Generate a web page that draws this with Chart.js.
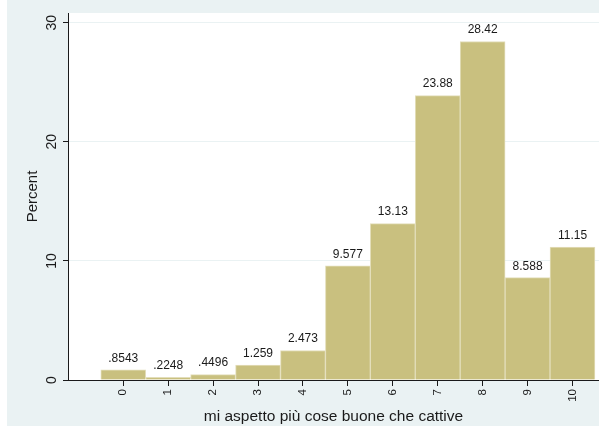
<!DOCTYPE html>
<html>
<head>
<meta charset="utf-8">
<script src="https://cdn.jsdelivr.net/npm/chart.js@4"></script>
<style>
  html, body { margin: 0; padding: 0; background: #fff; }
  #box { width: 599px; height: 427px; position: relative; }
</style>
</head>
<body>
<div id="box"><canvas id="chart"></canvas></div>
<script>
// Histogram data (percent per answer)
const categories = [0, 1, 2, 3, 4, 5, 6, 7, 8, 9, 10];
const percents = [0.8543, 0.2248, 0.4496, 1.259, 2.473, 9.577, 13.13, 23.88, 28.42, 8.588, 11.15];
const yTicks = [0, 10, 20, 30];

const FONT = '"Liberation Sans", Arial, sans-serif';
const BG = '#EAF2F3';

// Stata-like number label: 4 significant digits, no leading zero
const fmt = (v) => String(Number(v.toPrecision(4))).replace(/^0\./, '.');

// Paint the outer light panel and the white plot area
const backdrop = {
  id: 'backdrop',
  beforeDraw(chart) {
    const { ctx, chartArea: a } = chart;
    ctx.save();
    ctx.fillStyle = BG;
    ctx.fillRect(7, 0, chart.width - 7, 426);
    ctx.fillStyle = '#fff';
    ctx.fillRect(a.left, a.top, a.right - a.left, a.bottom - a.top);
    ctx.restore();
  }
};

// Value labels above each bar
const barLabels = {
  id: 'barLabels',
  afterDatasetsDraw(chart) {
    const { ctx } = chart;
    const meta = chart.getDatasetMeta(0);
    ctx.save();
    ctx.font = '12px ' + FONT;
    ctx.fillStyle = '#1a1a1a';
    ctx.textAlign = 'center';
    ctx.textBaseline = 'middle';
    meta.data.forEach((bar, i) => {
      ctx.fillText(fmt(percents[i]), bar.x, bar.y - 11.5);
    });
    ctx.restore();
  }
};

new Chart(document.getElementById('chart'), {
  type: 'bar',
  data: {
    datasets: [{
      data: categories.map((c, i) => ({ x: c, y: percents[i] })),
      backgroundColor: '#C9C07F',
      borderColor: '#E3DEBB',
      borderWidth: 1,
      barPercentage: 1,
      categoryPercentage: 1
    }]
  },
  options: {
    responsive: true,
    maintainAspectRatio: false,
    animation: false,
    events: [],
    layout: { padding: { top: 13, right: 0, left: 0, bottom: 0 } },
    plugins: {
      legend: { display: false },
      tooltip: { enabled: false }
    },
    scales: {
      x: {
        type: 'linear',
        min: -1.23,
        max: 10.59,
        offset: false,
        afterBuildTicks: (s) => { s.ticks = categories.map(v => ({ value: v })); },
        afterFit: (s) => { s.height = 47; },
        ticks: {
          minRotation: 90,
          maxRotation: 90,
          padding: 3,
          autoSkip: false,
          color: '#1a1a1a',
          font: { family: FONT, size: 11.5 }
        },
        grid: {
          drawOnChartArea: false,
          offset: false,
          tickLength: 6,
          tickColor: '#1a1a1a'
        },
        border: { color: '#1a1a1a', width: 1 },
        title: {
          display: true,
          text: 'mi aspetto più cose buone che cattive',
          color: '#1a1a1a',
          font: { family: FONT, size: 15.5 },
          padding: { top: 0, bottom: 1 }
        }
      },
      y: {
        min: 0,
        max: 30.81,
        afterBuildTicks: (s) => { s.ticks = yTicks.map(v => ({ value: v })); },
        afterFit: (s) => { s.width = 68; },
        ticks: {
          minRotation: 90,
          maxRotation: 90,
          crossAlign: 'center',
          padding: 3,
          color: '#1a1a1a',
          font: { family: FONT, size: 14 }
        },
        grid: {
          color: BG,
          lineWidth: 1,
          tickLength: 5,
          tickColor: '#1a1a1a'
        },
        border: { color: '#1a1a1a', width: 1 },
        title: {
          display: true,
          text: 'Percent',
          color: '#1a1a1a',
          font: { family: FONT, size: 15 },
          padding: { top: 24, bottom: 0 }
        }
      }
    }
  },
  plugins: [backdrop, barLabels]
});
</script>
</body>
</html>
